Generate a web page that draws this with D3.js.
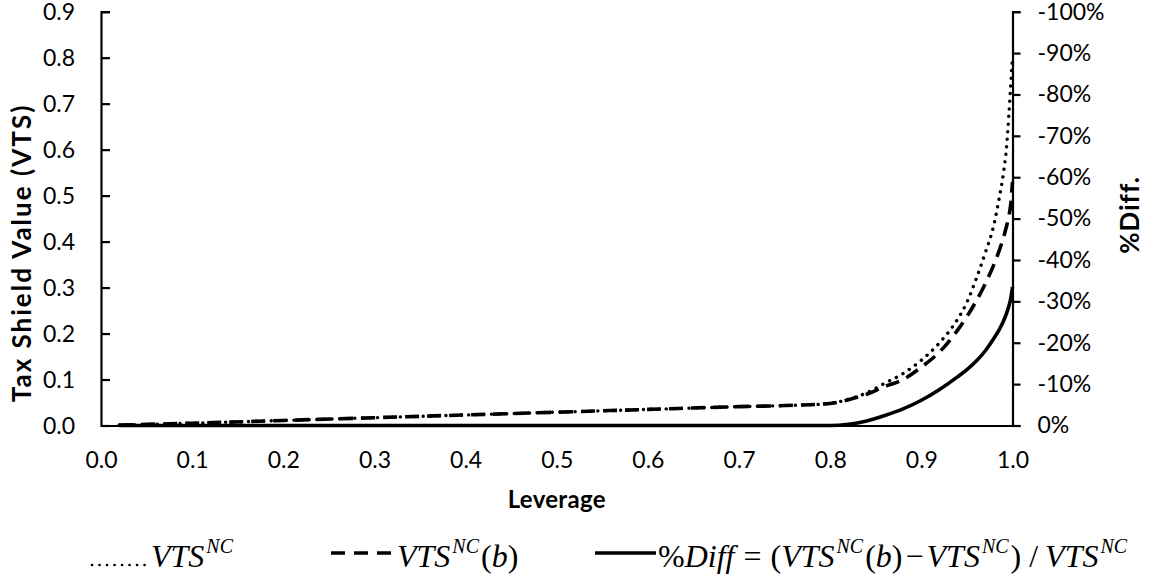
<!DOCTYPE html>
<html><head><meta charset="utf-8">
<script src="https://cdn.jsdelivr.net/npm/d3@7"></script>
<style>
html,body{margin:0;padding:0;background:#fff;}
svg{display:block;}
</style></head>
<body>
<svg id="chart" width="1157" height="588"></svg>
<script>
// ---- data ----
const leverage = [0.02, 0.1, 0.2, 0.3, 0.4, 0.5, 0.6, 0.7, 0.76, 0.8, 0.82, 0.84, 0.86, 0.88, 0.90, 0.92, 0.94, 0.95, 0.96, 0.97, 0.98, 0.985, 0.99, 0.993, 0.996, 0.998, 1.0];
const vtsNC = [0.001, 0.005, 0.011, 0.017, 0.023, 0.029, 0.035, 0.041, 0.044, 0.048, 0.057, 0.071, 0.092, 0.113, 0.142, 0.180, 0.232, 0.268, 0.318, 0.375, 0.440, 0.490, 0.548, 0.595, 0.675, 0.740, 0.800];
const vtsNCb = [0.001, 0.005, 0.011, 0.017, 0.023, 0.029, 0.035, 0.041, 0.044, 0.048, 0.056, 0.068, 0.085, 0.100, 0.127, 0.160, 0.208, 0.237, 0.270, 0.308, 0.352, 0.378, 0.408, 0.430, 0.455, 0.480, 0.530];
const pctDiff = [0, 0, 0, 0, 0, 0, 0, 0, 0, 0, -0.003, -0.011, -0.024, -0.040, -0.061, -0.087, -0.118, -0.135, -0.155, -0.180, -0.212, -0.230, -0.252, -0.268, -0.288, -0.306, -0.335];
const xTicks = [0, 0.1, 0.2, 0.3, 0.4, 0.5, 0.6, 0.7, 0.8, 0.9, 1.0];
const yTicks = [0, 0.1, 0.2, 0.3, 0.4, 0.5, 0.6, 0.7, 0.8, 0.9];
const y2Ticks = [0, -0.1, -0.2, -0.3, -0.4, -0.5, -0.6, -0.7, -0.8, -0.9, -1.0];

// ---- layout ----
const svg = d3.select("#chart");
const L = 101, R = 1012.5, T = 11.7, B = 425.5;
const x = d3.scaleLinear().domain([0, 1]).range([L, R]);
const y = d3.scaleLinear().domain([0, 0.9]).range([B, T]);
const y2 = d3.scaleLinear().domain([0, -1]).range([B, T]);
const tickFont = "Lato, 'Open Sans', sans-serif";
const tickSize = 23;

// left axis
const gy = svg.append("g").attr("transform", `translate(${L},0)`)
  .call(d3.axisRight(y).tickValues(yTicks).tickFormat(d3.format(".1f")).tickSize(9).tickPadding(0));
gy.selectAll(".tick text").remove();
gy.append("g").selectAll("text").data(yTicks).join("text")
  .attr("x", -26).attr("y", d => y(d)).attr("dy", "0.36em")
  .attr("text-anchor", "end").attr("font-family", tickFont).attr("font-size", tickSize).attr("fill", "#000")
  .text(d => d3.format(".1f")(d));

// right axis
const gy2 = svg.append("g").attr("transform", `translate(${R},0)`)
  .call(d3.axisRight(y2).tickValues(y2Ticks).tickSize(8).tickPadding(17)
    .tickFormat(d => (d === 0 ? "0" : "-" + Math.round(Math.abs(d) * 100)) + "%"));
gy2.selectAll("text").attr("font-family", tickFont).attr("font-size", tickSize).attr("fill", "#000");

// bottom axis
const gx = svg.append("g").attr("transform", `translate(0,${B})`)
  .call(d3.axisBottom(x).tickValues(xTicks).tickFormat(d3.format(".1f")).tickSize(0).tickPadding(26));
gx.selectAll("text").attr("font-family", tickFont).attr("font-size", tickSize).attr("fill", "#000");

[gy, gy2, gx].forEach(g => {
  g.selectAll(".domain").attr("stroke", "#000").attr("stroke-width", 2.2);
  g.selectAll(".tick line").attr("stroke", "#000").attr("stroke-width", 2.2);
});

// axis titles
svg.append("text").attr("transform", "translate(31,253) rotate(-90)")
  .attr("text-anchor", "middle").attr("font-family", tickFont).attr("font-weight", "bold")
  .attr("font-size", 26).attr("letter-spacing", 2).text("Tax Shield Value (VTS)");
svg.append("text").attr("transform", "translate(1139,215) rotate(-90)")
  .attr("text-anchor", "middle").attr("font-family", tickFont).attr("font-weight", "bold")
  .attr("font-size", 26).attr("letter-spacing", 1).text("%Diff.");
svg.append("text").attr("x", (L + R) / 2).attr("y", 508)
  .attr("text-anchor", "middle").attr("font-family", tickFont).attr("font-weight", "bold")
  .attr("font-size", 24).attr("letter-spacing", 0.3).text("Leverage");

// ---- lines ----
const rows = leverage.map((l, i) => ({ l, a: vtsNC[i], b: vtsNCb[i], p: pctDiff[i] }));
const lineA = d3.line().x(d => x(d.l)).y(d => y(d.a)).curve(d3.curveMonotoneX);
const lineB = d3.line().x(d => x(d.l)).y(d => y(d.b)).curve(d3.curveMonotoneX);
const lineP = d3.line().x(d => x(d.l)).y(d => y2(d.p)).curve(d3.curveMonotoneX);

svg.append("path").datum(rows).attr("d", lineP).attr("fill", "none")
  .attr("stroke", "#000").attr("stroke-width", 3.6);
svg.append("path").datum(rows).attr("d", lineB).attr("fill", "none")
  .attr("stroke", "#000").attr("stroke-width", 3.6).attr("stroke-dasharray", "14 8");
svg.append("path").datum(rows).attr("d", lineA).attr("fill", "none")
  .attr("stroke", "#000").attr("stroke-width", 3.4).attr("stroke-linecap", "round").attr("stroke-dasharray", "0.1 7.5");

// ---- legend ----
const serif = "'Liberation Serif', 'Times New Roman', serif";
const base = 567;   // text baseline
const mid = 553;    // line sample height
const fs = 32, sup = 20, raise = 14;
const leg = svg.append("g").attr("font-family", serif).attr("fill", "#000").attr("font-size", fs);

function supNC(t) {
  t.append("tspan").attr("font-style", "italic").attr("font-size", sup).attr("dy", -raise).attr("dx", 2).text("NC");
}
function vts(t, withB) {
  t.append("tspan").attr("font-style", "italic").text("VTS");
  supNC(t);
  if (withB) {
    t.append("tspan").attr("dy", raise).attr("dx", 2).text("(");
    t.append("tspan").attr("font-style", "italic").text("b");
    t.append("tspan").text(")");
  } else {
    t.append("tspan").attr("dy", raise).text("");
  }
}
// item 1
leg.append("line").attr("x1", 92).attr("x2", 152).attr("y1", base - 2).attr("y2", base - 2)
  .attr("stroke", "#000").attr("stroke-width", 2.6).attr("stroke-linecap", "round").attr("stroke-dasharray", "0.1 7.4");
const t1 = leg.append("text").attr("x", 151).attr("y", base);
vts(t1, false);
// item 2
leg.append("line").attr("x1", 331).attr("x2", 397).attr("y1", mid).attr("y2", mid)
  .attr("stroke", "#000").attr("stroke-width", 3.6).attr("stroke-dasharray", "14 9");
const t2 = leg.append("text").attr("x", 397).attr("y", base);
vts(t2, true);
// item 3
leg.append("line").attr("x1", 595).attr("x2", 656).attr("y1", mid).attr("y2", mid)
  .attr("stroke", "#000").attr("stroke-width", 3.6);
const t3 = leg.append("text").attr("x", 658).attr("y", base);
t3.append("tspan").text("%");
t3.append("tspan").attr("font-style", "italic").text("Diff");
t3.append("tspan").attr("dx", 9).text("=");
t3.append("tspan").attr("dx", 9).text("(");
vts(t3, true);
t3.append("tspan").attr("dx", 3).text("\u2212");
t3.append("tspan").attr("dx", 3).attr("font-style", "italic").text("VTS");
supNC(t3);
t3.append("tspan").attr("dy", raise).attr("dx", 2).text(")");
t3.append("tspan").attr("dx", 8).text("/");
t3.append("tspan").attr("dx", 7).attr("font-style", "italic").text("VTS");
supNC(t3);
</script>
</body></html>
